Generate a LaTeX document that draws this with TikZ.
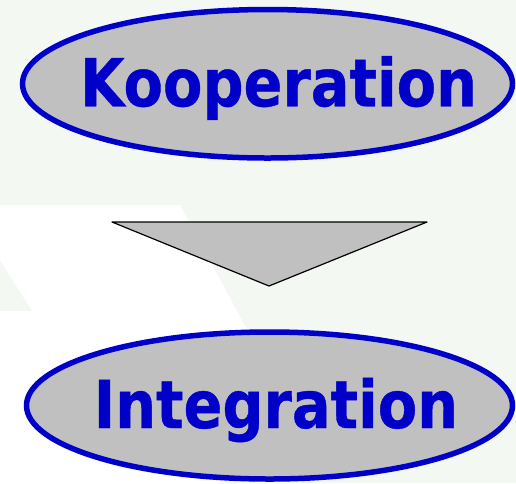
\documentclass[tikz,border=0pt]{standalone}
\usepackage{fontspec}
\usetikzlibrary{shapes.geometric}
\newfontfamily\stagefont[FakeStretch=0.87,FakeBold=0.6]{DejaVu Sans Bold}
\begin{document}
\begin{tikzpicture}[x=1pt, y=-1pt,
	stage/.style={
		shape=ellipse,
		inner sep=0pt,
		text height=45pt,
		text depth=0pt,
		line width=5.5pt,
		draw=myblue,
		fill=mygray,
		text=myblue,
		font=\stagefont\fontsize{66pt}{66pt}\selectfont,
	}]
\definecolor{myblue}{HTML}{0000C8}
\definecolor{mygray}{HTML}{C0C0C0}
\definecolor{mygreen}{HTML}{F3F8F3}
\useasboundingbox (0,0) rectangle (516,483);
% background
\fill[mygreen] (0,0) rectangle (516,483);
\fill[white] (0,205) -- (180,205) -- (250,335) -- (300,483) -- (0,483) -- (0,311) -- (32,311) -- (0,260) -- cycle;
% stages
\node[stage, minimum width=490pt, minimum height=148.5pt] (koop) at (267.5,83.75) {\makebox[0pt]{\hspace{22pt}Kooperation}};
\node[stage, minimum width=486pt, minimum height=147pt] (integ) at (269.5,405.5) {\makebox[0pt]{\hspace{13pt}Integration}};
% arrow
\filldraw[fill=mygray, draw=black, line width=1.2pt, line join=round] (112,222) -- (427,222) -- (269,286) -- cycle;
\end{tikzpicture}
\end{document}
